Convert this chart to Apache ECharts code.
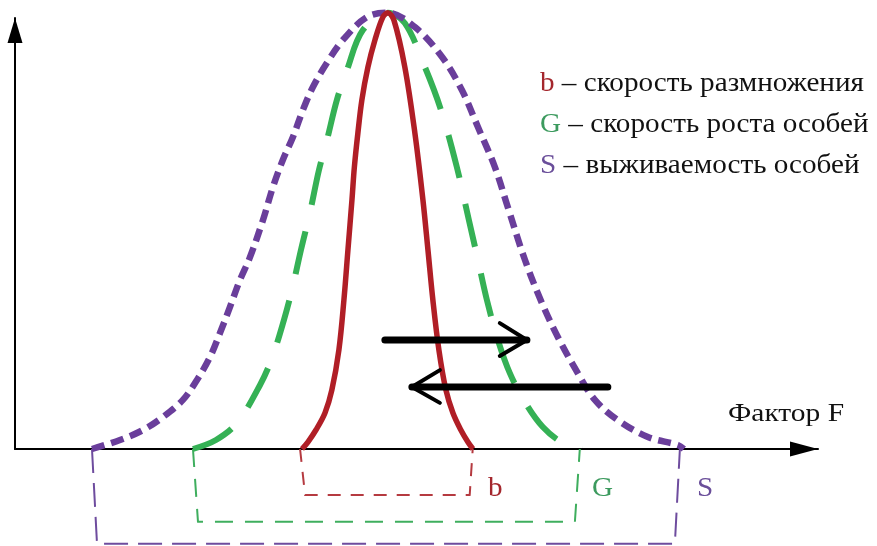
<!DOCTYPE html>
<html><head><meta charset="utf-8">
<script src="https://cdn.jsdelivr.net/npm/echarts@6/dist/echarts.min.js"></script>
<style>html,body{margin:0;padding:0;background:#fff}#c{width:877px;height:546px}</style>
</head><body><div id="c"></div>
<script>
// b – rate of reproduction (solid red)
const curveB = [[28.59,0],[29.18,1.62],[29.98,4.41],[30.88,8.35],[31.57,13.7],[32.27,23.0],[32.77,34.6],[33.17,46.2],[33.57,57.8],[33.81,65.4],[34.16,73.3],[34.56,81.0],[35.16,88.6],[35.86,94.9],[36.65,100.2],[37.15,101.2],[37.75,99.5],[38.84,88.6],[39.84,73.3],[40.64,57.8],[41.14,46.2],[41.63,34.6],[42.23,23.0],[42.93,13.7],[43.63,8.35],[44.42,4.41],[45.12,1.62],[45.62,0]];
// G – growth rate (long dashes, green)
const curveG = [[17.73,0],[20.02,2.09],[22.11,6.03],[24.40,14.8],[25.60,21.1],[26.79,29.9],[27.59,36.9],[28.49,46.2],[29.38,54.8],[30.28,64.7],[31.08,71.7],[32.07,81.0],[33.07,87.9],[34.66,97.2],[37.15,101.2],[38.84,98.8],[40.84,88.6],[42.43,78.7],[44.02,65.4],[45.22,53.1],[46.12,43.9],[47.01,34.6],[48.11,25.3],[49.30,17.6],[50.80,10.9],[52.59,5.1],[54.58,1.39],[56.47,0]];
// S – survival (short dashes, purple)
const curveS = [[7.67,0],[10.46,2.09],[12.75,4.4],[14.74,7.42],[16.73,11.4],[18.13,16.0],[19.42,21.3],[20.42,26.9],[21.41,32.9],[22.41,39.2],[23.41,44.5],[24.70,53.1],[25.70,60.8],[26.69,67.1],[27.69,72.4],[28.69,78.7],[29.68,84.0],[31.08,89.6],[32.67,94.9],[35.06,100.2],[37.15,101.2],[39.84,97.9],[42.53,91.0],[44.52,83.3],[46.12,74.7],[47.81,65.4],[49.10,56.1],[50.80,43.9],[52.49,33.9],[54.08,26.0],[56.07,17.6],[57.77,11.4],[60.06,6.7],[63.05,2.78],[66.04,0.93],[66.63,0]];
// tolerance-range brackets under the axis
const bracketB = [[28.4,0],[28.9,-10.7],[45.3,-10.7],[45.6,0]];
const bracketG = [[17.73,0],[18.23,-16.9],[55.78,-16.9],[56.27,0]];
const bracketS = [[7.67,0],[8.17,-22.0],[65.74,-22.0],[66.24,0]];
// shift arrows
const arrowRight = [[36.85,25.3],[51.0,25.3]];
const arrowRightHead = [[48.3,29.2],[51.0,25.3],[48.3,21.6]];
const arrowLeft = [[59.06,14.4],[39.54,14.4]];
const arrowLeftHead = [[42.33,18.3],[39.54,14.4],[42.33,10.7]];
// texts
const legendLines = [
  {key:'b', text:' – скорость размножения'},
  {key:'G', text:' – скорость роста особей'},
  {key:'S', text:' – выживаемость особей'}
];
const axisTitle = 'Фактор F';
const bracketLabels = ['b','G','S'];

const C = {
  b:'#b01e26', G:'#35b155', S:'#6a3e9b',
  bb:'#b53a40', bG:'#3fae5e', bS:'#6e4c9e',
  lb:'#a4272d', lG:'#3c9a5e', lS:'#6a4e9a'
};
const FONT = '"Liberation Serif","Times New Roman",serif';

function lineSeries(data, color, width, type, smooth, z, cap) {
  return {
    type:'line', data, showSymbol:false, symbol:'none', smooth, clip:false, silent:true,
    z, animation:false,
    lineStyle:{color, width, type, cap: cap || 'butt', join:'round'}
  };
}

const chart = echarts.init(document.getElementById('c'), null, {renderer:'canvas'});
const axisCommon = {
  type:'value', axisTick:{show:false}, axisLabel:{show:false}, splitLine:{show:false}
};
chart.setOption({
  backgroundColor:'#fff',
  animation:false,
  grid:{left:15, right:59, top:18, bottom:97},
  xAxis:Object.assign({}, axisCommon, {min:0, max:80,
    axisLine:{show:true, onZero:true, symbol:['none','triangle'], symbolSize:[15,28], symbolOffset:[0,-14],
      lineStyle:{color:'#000', width:2}}}),
  yAxis:Object.assign({}, axisCommon, {min:0, max:100,
    axisLine:{show:true, symbol:['none','triangle'], symbolSize:[15,25], symbolOffset:[0,-12.5],
      lineStyle:{color:'#000', width:2}}}),
  series:[
    lineSeries(bracketS, C.bS, 2, [24,10], false, 2),
    lineSeries(bracketG, C.bG, 2, [18,12], false, 2),
    lineSeries(bracketB, C.bb, 2, [13,10], false, 2),
    lineSeries(curveG, C.G, 6, [44,27], 0.35, 3),
    lineSeries(curveS, C.S, 6.5, [13,7], 0.35, 4),
    lineSeries(curveB, C.b, 5.5, 'solid', 0.35, 5),
    lineSeries(arrowRight, '#000', 7, 'solid', false, 6, 'round'),
    lineSeries(arrowRightHead, '#000', 4, 'solid', false, 6, 'round'),
    lineSeries(arrowLeft, '#000', 7, 'solid', false, 6, 'round'),
    lineSeries(arrowLeftHead, '#000', 4, 'solid', false, 6, 'round')
  ],
  graphic:[
    ...legendLines.map((l, i) => ({
      type:'text', x:540, y:84 + i*41, z:10, scaleX:1.08,
      style:{
        text:'{k|' + l.key + '}{t|' + l.text + '}',
        verticalAlign:'middle',
        rich:{
          k:{fill:C['l'+l.key], font:'27px ' + FONT},
          t:{fill:'#111', font:'27px ' + FONT}
        }
      }
    })),
    {type:'text', x:728, y:414, z:10, scaleX:1.18, style:{text:axisTitle, fill:'#111', font:'25px ' + FONT, verticalAlign:'middle'}},
    ...bracketLabels.map((k, i) => ({
      type:'text', x:[488,592,697][i], y:489, z:10, scaleX:1.08,
      style:{text:k, fill:C['l'+k], font:'27px ' + FONT, verticalAlign:'middle'}
    }))
  ]
});
</script></body></html>
